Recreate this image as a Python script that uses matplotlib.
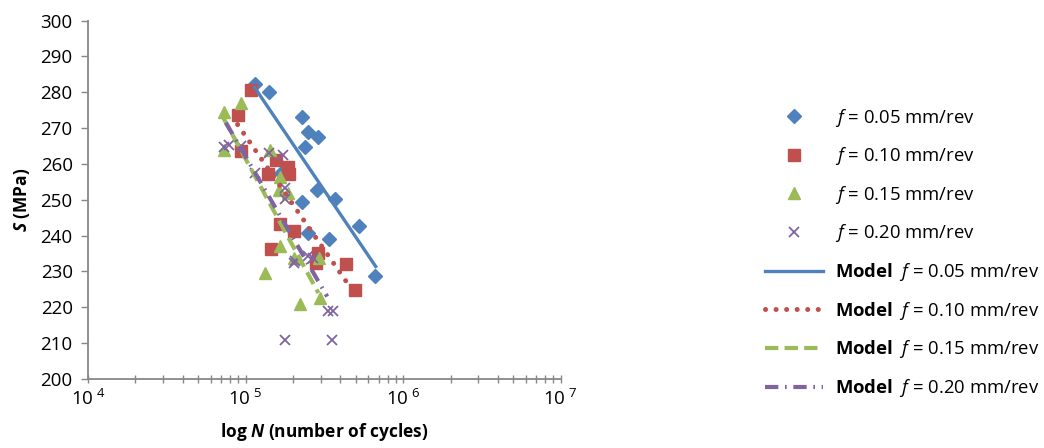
import math
import matplotlib
matplotlib.use("Agg")
import matplotlib.pyplot as plt
from matplotlib.ticker import LogLocator, FixedLocator, NullFormatter, FuncFormatter

plt.rcParams["font.family"] = ["Open Sans", "DejaVu Sans"]
plt.rcParams["mathtext.fontset"] = "custom"
plt.rcParams["mathtext.rm"] = "Open Sans"
plt.rcParams["mathtext.it"] = "Open Sans:italic"
plt.rcParams["mathtext.bf"] = "Open Sans:bold"
plt.rcParams["mathtext.bfit"] = "Open Sans:italic:bold"

# experimental points (N cycles, S MPa)
N_005 = [1.14e5, 1.41e5, 2.29e5, 2.49e5, 2.87e5, 2.40e5, 1.68e5, 2.84e5, 3.71e5,
         2.29e5, 5.27e5, 2.48e5, 3.37e5, 6.65e5]
S_005 = [282.3, 280.1, 273.2, 268.8, 267.6, 264.8, 257.4, 252.7, 250.3,
         249.5, 242.6, 240.8, 239.2, 228.8]

N_010 = [1.08e5, 8.9e4, 9.4e4, 1.55e5, 1.38e5, 1.87e5, 1.90e5, 1.66e5, 2.04e5,
         1.45e5, 2.87e5, 2.80e5, 4.33e5, 4.97e5]
S_010 = [280.7, 273.6, 263.5, 261.0, 257.3, 259.1, 257.2, 243.2, 241.2,
         236.2, 235.1, 232.5, 232.2, 224.9]

N_015 = [7.25e4, 9.4e4, 7.3e4, 1.42e5, 1.66e5, 1.62e5, 1.85e5, 1.66e5, 1.33e5,
         2.04e5, 2.94e5, 2.22e5, 2.95e5]
S_015 = [274.6, 277.1, 263.9, 263.8, 256.5, 252.8, 251.9, 237.0, 229.7,
         233.7, 233.7, 221.0, 222.6]

N_020 = [7.25e4, 7.9e4, 9.3e4, 1.40e5, 1.73e5, 1.14e5, 1.77e5, 1.77e5, 2.04e5,
         2.48e5, 2.67e5, 2.06e5, 3.33e5, 3.57e5, 1.77e5, 3.55e5]
S_020 = [264.7, 265.2, 264.9, 263.1, 262.4, 257.4, 253.3, 250.2, 232.3,
         234.2, 233.7, 232.8, 218.9, 219.1, 210.8, 211.0]

# model lines (end points)
N_model_005 = [1.14e5, 6.7e5]
S_model_005 = [281.4, 231.4]
N_model_010 = [8.9e4, 4.5e5]
S_model_010 = [271.0, 226.3]
N_model_015 = [7.2e4, 2.9e5]
S_model_015 = [273.0, 224.0]
N_model_020 = [7.5e4, 3.3e5]
S_model_020 = [271.5, 223.0]

feeds = ["0.05", "0.10", "0.15", "0.20"]
blue, red, green, purple = "#4F81BD", "#C0504D", "#9BBB59", "#8064A2"

fig = plt.figure(figsize=(10.44, 4.48), dpi=100)
ax = fig.add_axes([0.0843, 0.154, 0.4527, 0.80])

ax.plot(N_005, S_005, ls="none", marker="D", ms=7.5, color=blue, mec=blue,
        label=r"$f$ = %s mm/rev" % feeds[0], zorder=3)
ax.plot(N_010, S_010, ls="none", marker="s", ms=8.2, color=red, mec=red,
        label=r"$f$ = %s mm/rev" % feeds[1], zorder=3)
ax.plot(N_015, S_015, ls="none", marker="^", ms=8.5, color=green, mec=green,
        label=r"$f$ = %s mm/rev" % feeds[2], zorder=3)
ax.plot(N_020, S_020, ls="none", marker="x", ms=7.5, mew=1.3, color=purple,
        label=r"$f$ = %s mm/rev" % feeds[3], zorder=3)

ax.plot(N_model_005, S_model_005, color=blue, lw=2.4,
        label=r"$\mathbf{Model}$  $f$ = %s mm/rev" % feeds[0], zorder=4)
ax.plot(N_model_010, S_model_010, color=red, lw=3.6, ls=(0, (0.01, 2.1)),
        dash_capstyle="round", label=r"$\mathbf{Model}$  $f$ = %s mm/rev" % feeds[1], zorder=4)
ax.plot(N_model_015, S_model_015, color=green, lw=3, ls=(0, (3.2, 1.5)),
        label=r"$\mathbf{Model}$  $f$ = %s mm/rev" % feeds[2], zorder=4)
ax.plot(N_model_020, S_model_020, color=purple, lw=3, ls=(0, (3.2, 1.6, 0.4, 1.6)),
        label=r"$\mathbf{Model}$  $f$ = %s mm/rev" % feeds[3], zorder=4)

ax.set_xscale("log")
ax.set_xlim(1e4, 1e7)
ax.set_ylim(200, 300)
ax.set_yticks(range(200, 301, 10))
ax.xaxis.set_major_locator(FixedLocator([1e4, 1e5, 1e6, 1e7]))
ax.xaxis.set_major_formatter(FuncFormatter(
    lambda v, p: r"$10^{\,\,%d}$" % round(math.log10(v))))
ax.xaxis.set_minor_locator(LogLocator(base=10, subs=range(2, 10), numticks=20))
ax.xaxis.set_minor_formatter(NullFormatter())

gray = "#878787"
for side in ["top", "right"]:
    ax.spines[side].set_visible(False)
for side in ["left", "bottom"]:
    ax.spines[side].set_color(gray)
    ax.spines[side].set_linewidth(1.3)

ax.tick_params(axis="x", which="both", direction="inout", length=6, width=1,
               color=gray, labelsize=13.5, pad=4)
ax.tick_params(axis="y", which="major", direction="out", length=5, width=1,
               color=gray, labelsize=13.5, pad=6)

ax.set_xlabel(r"log $\mathbfit{N}$ (number of cycles)", fontsize=12.5,
              fontweight="bold", labelpad=9)
ax.set_ylabel(r"$\mathbfit{S}$ (MPa)", fontsize=12.5, fontweight="bold", labelpad=6)

fig.legend(loc="upper left", bbox_to_anchor=(0.733, 0.762), frameon=False,
           fontsize=13.3, handlelength=3.1, handletextpad=0.65, labelspacing=0.9,
           borderpad=0, borderaxespad=0, numpoints=1)

fig.savefig("out.png", dpi=100)
